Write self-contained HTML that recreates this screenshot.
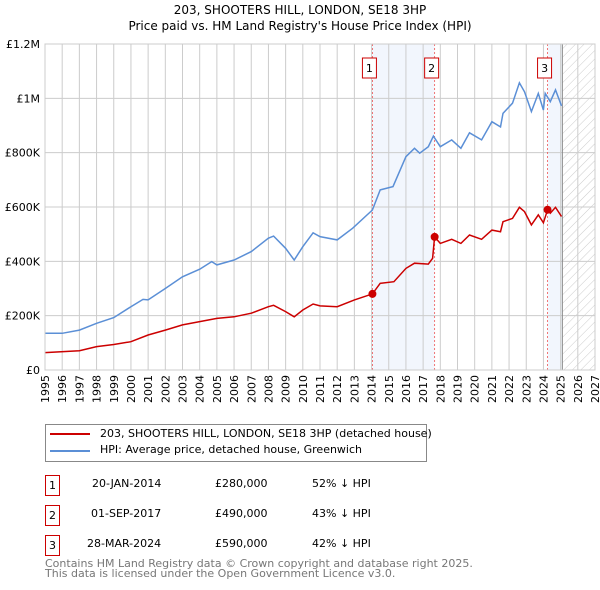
<!DOCTYPE html>
<html><head><meta charset="utf-8"><style>
body{margin:0;background:#fff;font-family:"DejaVu Sans","Liberation Sans",sans-serif;}
#w{position:relative;width:600px;height:590px;overflow:hidden}
.t{position:absolute;font-size:11px;color:#000;white-space:nowrap}
.box{position:absolute;width:13px;height:19px;border:1px solid #c00;font-size:11px;text-align:center;line-height:19px}
</style></head><body><div id="w">
<div class="t" style="left:0;width:600px;text-align:center;top:2px;font-size:12px;line-height:16px">203, SHOOTERS HILL, LONDON, SE18 3HP<br>Price paid vs. HM Land Registry's House Price Index (HPI)</div>
<svg id="s" width="600" height="420" style="position:absolute;left:0;top:0"></svg>
<div style="position:absolute;left:45px;top:424px;width:380px;height:36px;border:1px solid #888"></div>
<div style="position:absolute;left:50px;top:433px;width:40px;height:2px;background:#c00"></div>
<div class="t" style="left:100px;top:427px">203, SHOOTERS HILL, LONDON, SE18 3HP (detached house)</div>
<div style="position:absolute;left:50px;top:450px;width:40px;height:2px;background:#5b8fd6"></div>
<div class="t" style="left:100px;top:443px">HPI: Average price, detached house, Greenwich</div>

<div class="box" style="left:45px;top:475px">1</div>
<div class="t" style="left:92px;top:477px">20-JAN-2014</div>
<div class="t" style="left:215px;top:477px">£280,000</div>
<div class="t" style="left:312px;top:477px">52% ↓ HPI</div>
<div class="box" style="left:45px;top:505px">2</div>
<div class="t" style="left:91px;top:507px">01-SEP-2017</div>
<div class="t" style="left:215px;top:507px">£490,000</div>
<div class="t" style="left:312px;top:507px">43% ↓ HPI</div>
<div class="box" style="left:45px;top:535px">3</div>
<div class="t" style="left:87px;top:537px">28-MAR-2024</div>
<div class="t" style="left:215px;top:537px">£590,000</div>
<div class="t" style="left:312px;top:537px">42% ↓ HPI</div>
<div class="t" style="left:45px;top:559px;color:#777;line-height:10px">Contains HM Land Registry data © Crown copyright and database right 2025.<br>This data is licensed under the Open Government Licence v3.0.</div>
</div>
<script>
const hpiYears=[1995,1996,1997,1998,1999,2000,2000.7,2001,2002,2003,2004,2004.7,2005,2006,2007,2008,2008.3,2009,2009.5,2010,2010.6,2011,2012,2012.9,2014.05,2014.5,2015.25,2016,2016.5,2016.8,2017.3,2017.6,2018,2018.66,2019.2,2019.7,2020.4,2021,2021.5,2021.65,2022.2,2022.6,2022.9,2023.3,2023.7,2024,2024.1,2024.4,2024.7,2025.05];
const hpiValues=[135,135,147,172,193,233,260,258,300,343,371,399,387,405,436,485,493,448,405,454,505,491,479,522,589,663,675,785,816,798,822,861,822,847,816,873,847,914,895,945,982,1057,1024,951,1018,957,1018,988,1031,972];
const redYears=[1995,1997,1998,1999,2000,2001,2002,2003,2004,2005,2006,2007,2008,2008.3,2009,2009.5,2010,2010.6,2011,2012,2013,2014.05,2014.5,2015.3,2016,2016.5,2017.3,2017.55,2017.67,2018,2018.66,2019.2,2019.7,2020.4,2021,2021.5,2021.65,2022.2,2022.6,2022.9,2023.3,2023.7,2024,2024.24,2024.4,2024.7,2025.05];
const redValues=[64,71,86,94,104,129,147,166,178,190,196,209,233,238,215,196,221,243,236,233,258,280,319,325,374,393,390,411,490,466,481,466,497,481,515,509,546,558,599,583,534,571,542,590,577,599,565];
const saleYears=[2014.05,2017.67,2024.24];
const saleValues=[280,490,590];
const saleLabels=["1","2","3"];
const yTicks=[0,200,400,600,800,1000,1200];
const yTickLabels=["£0","£200K","£400K","£600K","£800K","£1M","£1.2M"];
const xTicks=[];for(let y=1995;y<=2027;y++)xTicks.push(y);
const L=45,R=595,T=44,B=370,Y0=1995,Y1=2027,VMAX=1200,HATCH=2025.1;
const X=y=>L+(y-Y0)/(Y1-Y0)*(R-L), Yv=v=>B-v/VMAX*(B-T);
const s=document.getElementById('s');const NS='http://www.w3.org/2000/svg';
function mk(t,a,p){const e=document.createElementNS(NS,t);for(const k in a)e.setAttribute(k,a[k]);(p||s).appendChild(e);return e;}
const defs=mk('defs',{});const pat=mk('pattern',{id:'h',width:6,height:6,patternUnits:'userSpaceOnUse',patternTransform:'rotate(45)'},defs);mk('line',{x1:0,y1:0,x2:0,y2:6,stroke:'#ccc','stroke-width':1},pat);
let e;
e=mk('rect',{x:X(saleYears[0]),y:T,width:X(saleYears[1])-X(saleYears[0]),height:B-T,fill:'#f2f6fd'});
e=mk('rect',{x:X(saleYears[2]),y:T,width:X(HATCH)-X(saleYears[2]),height:B-T,fill:'#f2f6fd'});
e=mk('rect',{x:X(HATCH),y:T,width:R-X(HATCH),height:B-T,fill:'url(#h)'});
xTicks.forEach(y=>{e=mk('line',{x1:X(y),x2:X(y),y1:T,y2:B,stroke:'#ccc'});
 e=mk('text',{x:0,y:0,'font-size':11,'text-anchor':'end',transform:`translate(${X(y)+4},${B+5}) rotate(-90)`,'font-family':'DejaVu Sans, sans-serif'});e.textContent=y;});
yTicks.forEach((v,i)=>{e=mk('line',{x1:L,x2:R,y1:Yv(v),y2:Yv(v),stroke:'#ccc'});
 e=mk('text',{x:40,y:Yv(v)+4,'font-size':11,'text-anchor':'end','font-family':'DejaVu Sans, sans-serif'});e.textContent=yTickLabels[i];});
e=mk('line',{x1:X(HATCH),x2:X(HATCH),y1:T,y2:B,stroke:'#888'});
saleYears.forEach((y,i)=>{e=mk('line',{x1:X(y),x2:X(y),y1:T,y2:B,stroke:'#e55','stroke-dasharray':'2,2','stroke-width':0.8});
 e=mk('rect',{x:X(y)-10,y:58,width:14,height:20,fill:'#fff',stroke:'#c00'});
 e=mk('text',{x:X(y)-3,y:72,'font-size':11,'text-anchor':'middle','font-family':'DejaVu Sans, sans-serif'});e.textContent=saleLabels[i];});
const pts=(ys,vs)=>ys.map((y,i)=>X(y).toFixed(1)+','+Yv(vs[i]).toFixed(1)).join(' ');
e=mk('polyline',{points:pts(hpiYears,hpiValues),fill:'none',stroke:'#5b8fd6','stroke-width':1.5});
e=mk('polyline',{points:pts(redYears,redValues),fill:'none',stroke:'#c00','stroke-width':1.5});
saleYears.forEach((y,i)=>{e=mk('circle',{cx:X(y),cy:Yv(saleValues[i]),r:4,fill:'#c00'});});
e=mk('rect',{x:L,y:T,width:R-L,height:B-T,fill:'none',stroke:'#ccc'});
</script></body></html>
